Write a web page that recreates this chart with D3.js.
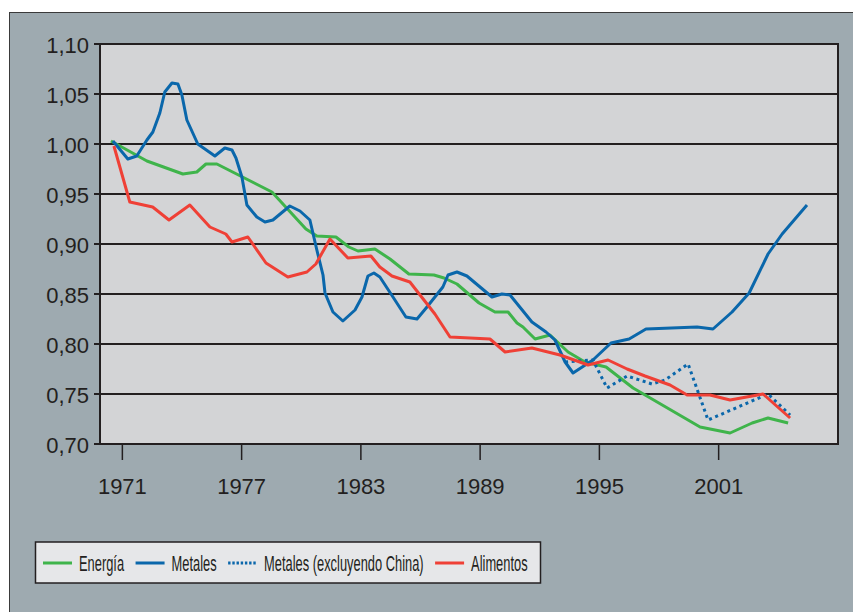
<!DOCTYPE html>
<html>
<head>
<meta charset="utf-8">
<script src="https://cdn.jsdelivr.net/npm/d3@7"></script>
<style>
  body { margin: 0; background: #ffffff; }
  svg { display: block; font-family: 'Liberation Sans', Arial, sans-serif; }
</style>
</head>
<body>
<svg id="chart"></svg>
<script>
// indices de precios (años fraccionarios, valor)
const energia = [
  [1970.45, 1.003], [1972.26, 0.983], [1974.07, 0.970], [1974.77, 0.972], [1975.23, 0.980],
  [1975.78, 0.980], [1978.55, 0.952], [1980.26, 0.915], [1980.81, 0.908], [1981.77, 0.907],
  [1982.42, 0.897], [1982.88, 0.893], [1983.73, 0.895], [1984.49, 0.885], [1985.44, 0.870],
  [1986.70, 0.869], [1987.21, 0.866], [1987.86, 0.860], [1988.97, 0.841], [1989.77, 0.832],
  [1990.43, 0.832], [1990.88, 0.821], [1991.18, 0.817], [1991.79, 0.805], [1992.54, 0.809],
  [1993.45, 0.792], [1994.30, 0.782], [1995.36, 0.777], [1996.72, 0.756], [2000.09, 0.717],
  [2001.60, 0.711], [2002.71, 0.721], [2003.51, 0.726], [2004.52, 0.721]
]
const metales = [
  [1970.55, 1.003], [1971.30, 0.985], [1971.75, 0.988], [1972.26, 1.004], [1972.56, 1.012],
  [1972.91, 1.031], [1973.16, 1.052], [1973.52, 1.061], [1973.82, 1.060], [1974.02, 1.049],
  [1974.27, 1.024], [1974.82, 1.000], [1975.68, 0.988], [1976.18, 0.996], [1976.54, 0.994],
  [1976.74, 0.986], [1977.04, 0.967], [1977.29, 0.939], [1977.79, 0.927], [1978.20, 0.922],
  [1978.60, 0.924], [1979.45, 0.938], [1979.96, 0.933], [1980.46, 0.924], [1980.81, 0.894],
  [1981.12, 0.869], [1981.22, 0.851], [1981.62, 0.832], [1982.12, 0.823], [1982.73, 0.834],
  [1983.08, 0.847], [1983.38, 0.868], [1983.68, 0.871], [1983.98, 0.867], [1984.64, 0.847],
  [1985.29, 0.827], [1985.85, 0.825], [1986.35, 0.837], [1987.15, 0.857], [1987.41, 0.869],
  [1987.86, 0.872], [1988.36, 0.868], [1989.62, 0.847], [1990.12, 0.850], [1990.53, 0.849],
  [1991.63, 0.822], [1992.34, 0.812], [1992.79, 0.804], [1993.30, 0.782], [1993.70, 0.771],
  [1994.70, 0.784], [1995.61, 0.801], [1996.52, 0.805], [1997.37, 0.815], [1999.94, 0.817],
  [2000.74, 0.815], [2001.70, 0.832], [2002.56, 0.851], [2003.51, 0.890], [2004.22, 0.910],
  [2005.47, 0.939]
]
const metalesSinChina = [
  [1993.30, 0.782], [1994.70, 0.784], [1995.41, 0.756], [1996.42, 0.768], [1997.67, 0.760],
  [1998.33, 0.764], [1999.49, 0.780], [2000.49, 0.724], [2003.51, 0.750], [2004.62, 0.729]
]
const alimentos = [
  [1970.60, 0.998], [1971.40, 0.942], [1972.55, 0.937], [1973.37, 0.924], [1974.42, 0.939],
  [1975.43, 0.917], [1976.23, 0.910], [1976.54, 0.902], [1977.34, 0.907], [1978.25, 0.881],
  [1979.35, 0.867], [1980.31, 0.872], [1980.76, 0.880], [1981.47, 0.905], [1982.37, 0.886],
  [1983.53, 0.888], [1983.98, 0.877], [1984.59, 0.868], [1985.49, 0.862], [1986.75, 0.830],
  [1987.51, 0.807], [1989.52, 0.805], [1990.28, 0.792], [1991.63, 0.796], [1993.04, 0.789],
  [1993.90, 0.783], [1994.45, 0.779], [1995.46, 0.784], [1996.42, 0.775], [1997.32, 0.768],
  [1998.58, 0.759], [1999.44, 0.749], [2000.59, 0.749], [2001.60, 0.744], [2002.71, 0.748],
  [2003.26, 0.750], [2004.62, 0.726]
]

const yTicks = [0.70, 0.75, 0.80, 0.85, 0.90, 0.95, 1.00, 1.05, 1.10]
const xTicks = [1971, 1977, 1983, 1989, 1995, 2001]
const legendNames = ['Energía', 'Metales', 'Metales (excluyendo China)', 'Alimentos']

const series = [
  { name: legendNames[0], data: energia, color: '#3fb44b', dash: null },
  { name: legendNames[1], data: metales, color: '#0a67ab', dash: null },
  { name: legendNames[2], data: metalesSinChina, color: '#0a67ab', dash: '3,3.6' },
  { name: legendNames[3], data: alimentos, color: '#ef4036', dash: null }
]

const [sizeX, sizeY] = [853, 612]
const INK = '#231f20'
const plot = { left: 100, top: 44, right: 838, bottom: 444 }

const svg = d3.select('svg#chart')
  .attr('width', sizeX)
  .attr('height', sizeY)

// panel de fondo
svg.append('rect')
  .attr('x', 9.5).attr('y', 12.5)
  .attr('width', sizeX + 20).attr('height', sizeY + 20)
  .attr('fill', '#9eaab0')
  .attr('stroke', '#3a3a3a')
  .attr('stroke-width', 1)

const x = d3.scaleLinear()
  .domain([1969.9, 2007.03])
  .range([plot.left, plot.right])
const y = d3.scaleLinear()
  .domain([0.70, 1.10])
  .range([plot.bottom, plot.top])

const locale = d3.formatLocale({ decimal: ',', thousands: '.', grouping: [3], currency: ['', ''] })
const fmt = locale.format('.2f')

svg.append('rect')
  .attr('x', plot.left).attr('y', plot.top)
  .attr('width', plot.right - plot.left)
  .attr('height', plot.bottom - plot.top)
  .attr('fill', '#d3d4d6')

// lineas de cuadricula
svg.append('g')
  .selectAll('line')
  .data(yTicks)
  .enter()
  .append('line')
  .attr('x1', plot.left - 6)
  .attr('x2', plot.right)
  .attr('y1', d => y(d))
  .attr('y2', d => y(d))
  .attr('stroke', INK)
  .attr('stroke-width', 2)

svg.append('g')
  .selectAll('text')
  .data(yTicks)
  .enter()
  .append('text')
  .attr('x', 89)
  .attr('y', d => y(d) + 9)
  .attr('fill', INK)
  .style('font-size', '22px')
  .style('text-anchor', 'end')
  .text(d => fmt(d))

const xAxis = svg.append('g')
  .attr('transform', `translate(0, ${plot.bottom})`)
  .call(d3.axisBottom(x).tickValues(xTicks).tickFormat(d3.format('d')).tickSize(16).tickPadding(18))
xAxis.select('.domain').remove()
xAxis.selectAll('line').attr('stroke', INK).attr('stroke-width', 1.5)
xAxis.selectAll('text')
  .attr('fill', INK)
  .style('font-size', '22px')
  .style('font-family', "'Liberation Sans', Arial, sans-serif")

// borde del area de trazado
svg.append('rect')
  .attr('x', plot.left).attr('y', plot.top)
  .attr('width', plot.right - plot.left)
  .attr('height', plot.bottom - plot.top)
  .attr('fill', 'none')
  .attr('stroke', INK)
  .attr('stroke-width', 2)

const line = d3.line()
  .x(d => x(d[0]))
  .y(d => y(d[1]))

svg.append('g')
  .selectAll('path')
  .data(series)
  .enter()
  .append('path')
  .attr('d', s => line(s.data))
  .attr('fill', 'none')
  .attr('stroke', s => s.color)
  .attr('stroke-width', 3)
  .attr('stroke-linejoin', 'round')
  .attr('stroke-dasharray', s => s.dash)

// leyenda
const LEG_SCALE = 0.585
const legend = svg.append('g')
legend.append('rect')
  .attr('x', 35.5).attr('y', 542)
  .attr('width', 505).attr('height', 41)
  .attr('fill', '#e6e7e9')
  .attr('stroke', INK)
  .attr('stroke-width', 1.5)

let cursor = 43
series.forEach(s => {
  legend.append('line')
    .attr('x1', cursor).attr('x2', cursor + 29)
    .attr('y1', 563).attr('y2', 563)
    .attr('stroke', s.color)
    .attr('stroke-width', 3)
    .attr('stroke-dasharray', s.dash ? '2.4,1.8' : null)
  const t = legend.append('text')
    .attr('transform', `translate(${cursor + 36}, 570.5) scale(${LEG_SCALE}, 1)`)
    .attr('fill', INK)
    .style('font-size', '22px')
    .text(s.name)
  cursor += 36 + t.node().getComputedTextLength() * LEG_SCALE + 11.5
})
</script>
</body>
</html>
